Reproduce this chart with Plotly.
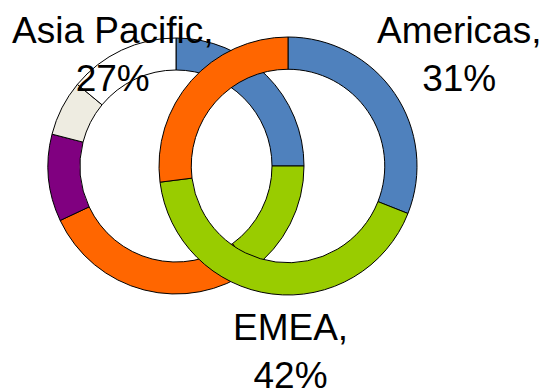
import plotly.graph_objects as go

# Regional revenue split (outer labelled ring)
regions = ["Americas", "EMEA", "Asia Pacific"]
region_share = [31, 42, 27]
region_colors = ["#4F81BD", "#99CC00", "#FF6600"]

# Background ring segments
ring_labels = ["Americas", "EMEA", "Asia Pacific", "Other A", "Other B", "Unassigned"]
ring_share = [25, 15, 28, 11, 7, 14]
ring_colors = ["#4F81BD", "#99CC00", "#FF6600", "#800080", "#EEECE1", "#FFFFFF"]

W, H = 546, 389


def px_domain(cx, cy, r):
    return dict(x=[(cx - r) / W, (cx + r) / W], y=[(H - cy - r) / H, (H - cy + r) / H])


fig = go.Figure()

fig.add_trace(go.Pie(
    labels=ring_labels, values=ring_share, sort=False, direction="clockwise",
    rotation=0, hole=0.75, textinfo="none", hoverinfo="skip",
    marker=dict(colors=ring_colors, line=dict(color="#000000", width=1)),
    domain=px_domain(176, 166, 128), showlegend=False,
))

fig.add_trace(go.Pie(
    labels=regions, values=region_share, sort=False, direction="clockwise",
    rotation=0, hole=0.75, textinfo="none", hoverinfo="label+percent",
    marker=dict(colors=region_colors, line=dict(color="#000000", width=1)),
    domain=px_domain(288, 166, 129), showlegend=False,
))

# Outside data labels for the regional split
label_pos = {"Americas": (459, 54), "EMEA": (290, 351), "Asia Pacific": (113, 54)}
for name, share in zip(regions, region_share):
    x, y = label_pos[name]
    fig.add_annotation(
        x=x / W, y=1 - y / H, xref="paper", yref="paper",
        text=f"{name},<br>{share}%", showarrow=False,
        xanchor="center", yanchor="middle", align="center",
        font=dict(family="Liberation Sans, Arial, sans-serif", size=37, color="#000000"),
    )

fig.update_layout(
    width=W, height=H, margin=dict(l=0, r=0, t=0, b=0),
    paper_bgcolor="#FFFFFF", plot_bgcolor="#FFFFFF",
)

fig.write_html("out.html")
